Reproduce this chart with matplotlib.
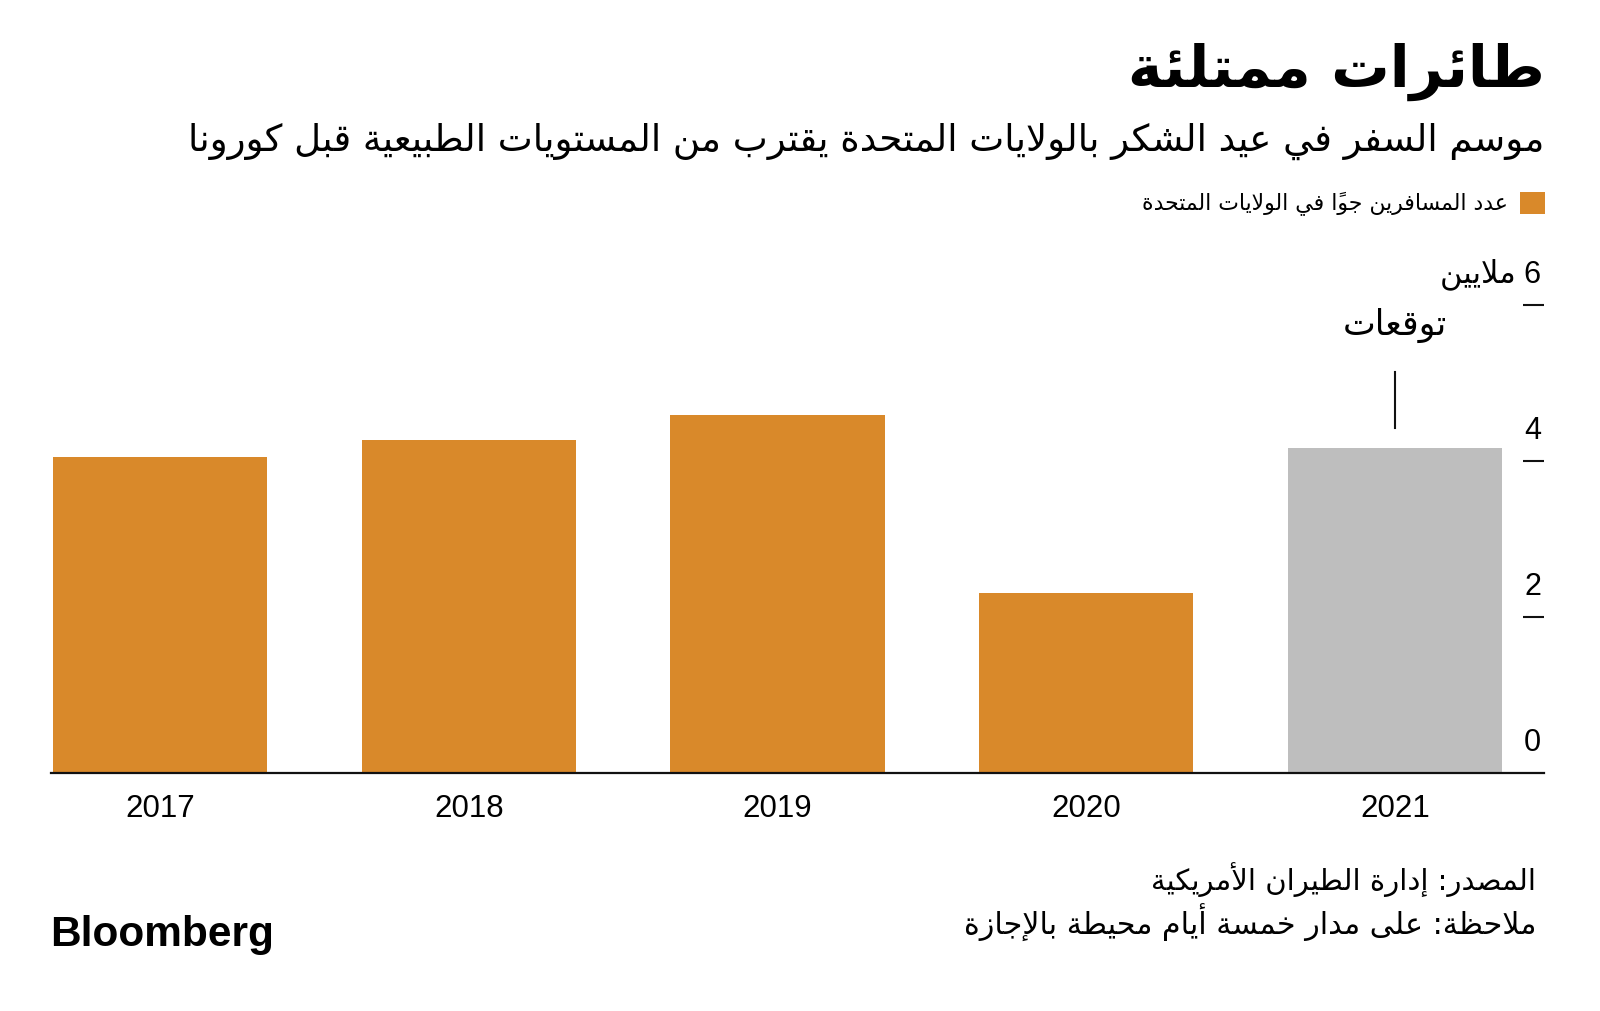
import matplotlib.pyplot as plt

# عدد المسافرين جواً (ملايين) خلال عطلة عيد الشكر
years = ['2017', '2018', '2019', '2020', '2021']
passengers = [4.05, 4.27, 4.59, 2.31, 4.17]
forecast = [False, False, False, False, True]
y_ticks = [0, 2, 4, 6]

title = 'طائرات ممتلئة'
subtitle = 'موسم السفر في عيد الشكر بالولايات المتحدة يقترب من المستويات الطبيعية قبل كورونا'
legend_label = 'عدد المسافرين جواً في الولايات المتحدة'
unit_label = '6 ملايين'
forecast_label = 'توقعات'
source = 'المصدر: إدارة الطيران الأمريكية'
note = 'ملاحظة: على مدار خمسة أيام محيطة بالإجازة'

ORANGE = '#D9892A'
GREY = '#BEBEBE'

# matplotlib لا يشكّل الحروف العربية: نحوّلها إلى أشكال العرض ونعكس الترتيب
_forms = [
    ('\u0621', 0xFE80, 1), ('\u0622', 0xFE81, 2), ('\u0623', 0xFE83, 2),
    ('\u0624', 0xFE85, 2), ('\u0625', 0xFE87, 2), ('\u0626', 0xFE89, 4),
    ('\u0627', 0xFE8D, 2), ('\u0628', 0xFE8F, 4), ('\u0629', 0xFE93, 2),
    ('\u062A', 0xFE95, 4), ('\u062B', 0xFE99, 4), ('\u062C', 0xFE9D, 4),
    ('\u062D', 0xFEA1, 4), ('\u062E', 0xFEA5, 4), ('\u062F', 0xFEA9, 2),
    ('\u0630', 0xFEAB, 2), ('\u0631', 0xFEAD, 2), ('\u0632', 0xFEAF, 2),
    ('\u0633', 0xFEB1, 4), ('\u0634', 0xFEB5, 4), ('\u0635', 0xFEB9, 4),
    ('\u0636', 0xFEBD, 4), ('\u0637', 0xFEC1, 4), ('\u0638', 0xFEC5, 4),
    ('\u0639', 0xFEC9, 4), ('\u063A', 0xFECD, 4), ('\u0641', 0xFED1, 4),
    ('\u0642', 0xFED5, 4), ('\u0643', 0xFED9, 4), ('\u0644', 0xFEDD, 4),
    ('\u0645', 0xFEE1, 4), ('\u0646', 0xFEE5, 4), ('\u0647', 0xFEE9, 4),
    ('\u0648', 0xFEED, 2), ('\u0649', 0xFEEF, 2), ('\u064A', 0xFEF1, 4),
]
FORMS = {c: (code, n) for c, code, n in _forms}
LAM_ALEF = {'\u0622': 0xFEF5, '\u0623': 0xFEF7, '\u0625': 0xFEF9, '\u0627': 0xFEFB}


def ar(text):
    units = []  # [base, marks, code, n]
    for ch in text:
        if '\u064B' <= ch <= '\u0652' and units:
            units[-1][1] += ch
        elif ch in LAM_ALEF and units and units[-1][0] == '\u0644' and not units[-1][1]:
            units[-1] = [ch, '', LAM_ALEF[ch], 2]
        else:
            code, n = FORMS.get(ch, (None, 0))
            units.append([ch, '', code, n])
    glyphs = []
    for i, (base, marks, code, n) in enumerate(units):
        if n == 0:
            glyphs.append(base + marks)
            continue
        prev_j = i > 0 and units[i - 1][3] == 4
        next_j = n == 4 and i + 1 < len(units) and units[i + 1][3] >= 2
        if n == 1:
            form = 0
        elif n == 2:
            form = 1 if prev_j else 0
        else:
            form = [[0, 2], [1, 3]][prev_j][next_j]
        glyphs.append(chr(code + form) + marks)
    runs = []
    for g in glyphs:
        ltr = g[0].isascii() and g[0].isalnum()
        if ltr and runs and runs[-1][0]:
            runs[-1][1].append(g)
        else:
            runs.append([ltr, [g]])
    return ''.join(''.join(r[1]) for r in reversed(runs))


W, H = 1600, 1011
AR_FONT = 'DejaVu Sans'
NUM_FONT = 'Liberation Sans'


def fx(px):
    return px / W


def fy(py):
    return 1 - py / H


fig = plt.figure(figsize=(16, 10.11), dpi=100)
fig.patch.set_facecolor('white')

ax = fig.add_axes([fx(51), fy(772.5), fx(1544) - fx(51), fy(305) - fy(772.5)])
x = list(range(len(years)))
colors = [GREY if f else ORANGE for f in forecast]
bars = ax.bar(x, passengers, width=0.694, color=colors, zorder=2)

ax.set_xlim(-0.354, 4.483)
ax.set_ylim(0, 6)
for s in ['top', 'left', 'right']:
    ax.spines[s].set_visible(False)
ax.spines['bottom'].set_linewidth(1.6)
ax.spines['bottom'].set_color('#111111')
ax.spines['bottom'].set_zorder(3)

ax.set_xticks(x)
ax.set_xticklabels(years, fontsize=22.5, fontfamily=NUM_FONT)
ax.tick_params(axis='x', length=0, pad=15.5)

ax.yaxis.tick_right()
ax.set_yticks(y_ticks[1:])
ax.set_yticklabels([])
ax.tick_params(axis='y', direction='in', length=15, width=1.5, color='#111111')

for v in y_ticks:
    lab = ar(unit_label) if v == y_ticks[-1] else str(v)
    ax.annotate(lab, xy=(1, v), xycoords=('axes fraction', 'data'),
                xytext=(-2, 10.5), textcoords='offset points', ha='right', va='bottom',
                fontsize=22, family=[NUM_FONT, AR_FONT])

# خط التوقعات
fi = forecast.index(True)
ax.plot([x[fi], x[fi]], [4.42, 5.14], color='#111111', lw=1.5, clip_on=False)
ax.text(x[fi], 5.74, ar(forecast_label), ha='center', va='center',
        fontsize=25, family=AR_FONT)

fig.text(fx(1545), fy(72), ar(title), ha='right', va='center',
         fontsize=42, fontweight='bold', family=AR_FONT)
fig.text(fx(1544), fy(141), ar(subtitle), ha='right', va='center',
         fontsize=26.7, family=AR_FONT)

leg = ax.legend([bars[0]], [ar(legend_label)], loc='upper right',
                bbox_to_anchor=(fx(1545), fy(192)), bbox_transform=fig.transFigure,
                frameon=False, markerfirst=False, handlelength=1.15, handleheight=1.15,
                handletextpad=0.55, borderpad=0, borderaxespad=0,
                prop={'family': AR_FONT, 'size': 15.8})

fig.text(fx(1536), fy(880), ar(source), ha='right', va='center',
         fontsize=21, family=AR_FONT)
fig.text(fx(1536), fy(923), ar(note), ha='right', va='center',
         fontsize=21.7, family=AR_FONT)
fig.text(fx(50), fy(935), 'Bloomberg', ha='left', va='center',
         fontsize=30.5, fontweight='bold', family=NUM_FONT)

plt.savefig('out.png', dpi=100, facecolor='white')
